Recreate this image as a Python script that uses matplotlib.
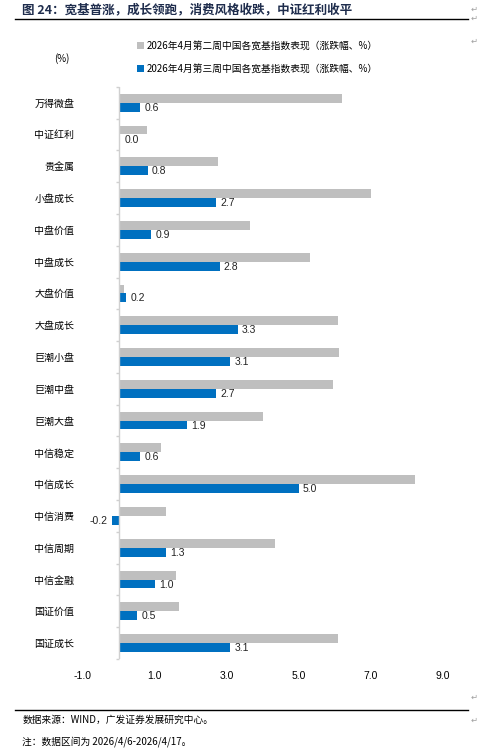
import numpy as np
import matplotlib
matplotlib.use('Agg')
import matplotlib.pyplot as plt

plt.rcParams['font.family'] = ['Noto Sans CJK SC', 'DejaVu Sans']

categories = ['万得微盘', '中证红利', '贵金属', '小盘成长', '中盘价值', '中盘成长',
              '大盘价值', '大盘成长', '巨潮小盘', '巨潮中盘', '巨潮大盘', '中信稳定',
              '中信成长', '中信消费', '中信周期', '中信金融', '国证价值', '国证成长']
week2 = [6.19, 0.77, 2.75, 7.01, 3.64, 5.32, 0.15, 6.08, 6.13,
         5.96, 4.02, 1.17, 8.23, 1.30, 4.35, 1.58, 1.66, 6.08]
week3 = [0.6, 0.04, 0.8, 2.7, 0.9, 2.8, 0.2, 3.3, 3.1,
         2.7, 1.9, 0.6, 5.0, -0.2, 1.3, 1.0, 0.5, 3.1]
xticks = [-1.0, 1.0, 3.0, 5.0, 7.0, 9.0]

label2 = '2026年4月第二周中国各宽基指数表现（涨跌幅、%）'
label3 = '2026年4月第三周中国各宽基指数表现（涨跌幅、%）'
title = '图 24：宽基普涨，成长领跑，消费风格收跌，中证红利收平'
source = '数据来源：WIND，广发证券发展研究中心。'
note = '注：数据区间为 2026/4/6-2026/4/17。'

gray = '#BFBFBF'
blue = '#0070C0'

fig = plt.figure(figsize=(4.93, 7.48), dpi=100)
ax = fig.add_axes([0.168, 0.119, 0.730, 0.765])

y = np.arange(len(categories))
h = 0.28
ax.barh(y - h / 2, week2, height=h, color=gray, label=label2)
ax.barh(y + h / 2, week3, height=h, color=blue, label=label3)

for yi, v in zip(y, week3):
    if v >= 0:
        ax.text(v + 0.12, yi + h / 2 + 0.02, f'{v:.1f}', va='center', ha='left',
                fontsize=7.5, family='Liberation Sans', color='#222222')
    else:
        ax.text(v - 0.12, yi + h / 2 + 0.02, f'{v:.1f}', va='center', ha='right',
                fontsize=7.5, family='Liberation Sans', color='#222222')

ax.set_xlim(-1, 9)
ax.set_ylim(len(categories) - 0.5, -0.5)
ax.set_xticks(xticks)
ax.set_xticklabels([f'{t:.1f}' for t in xticks], family='Liberation Sans', fontsize=7.5)
ax.set_yticks(y)
ax.set_yticklabels(categories, fontsize=7.2)
ax.tick_params(axis='both', length=0)
ax.tick_params(axis='y', pad=6)
ax.tick_params(axis='x', pad=9)
for s in ax.spines.values():
    s.set_visible(False)

# category axis at zero with small ticks between categories
ax.axvline(0, color='#D0D0D0', lw=1)
ax.hlines(np.arange(len(categories) + 1) - 0.5, -0.08, 0, color='#D0D0D0', lw=1, clip_on=False)

leg = fig.legend(loc='upper left', bbox_to_anchor=(0.26, 0.957), frameon=False,
                 fontsize=7, handlelength=0.7, handleheight=0.7, handletextpad=0.3,
                 labelspacing=1.3)

fig.text(0.11, 0.922, '(%)', fontsize=7, va='center')

fig.text(0.045, 0.987, title, fontsize=9, fontweight='bold', va='center', color='#1F2D4D')
fig.add_artist(plt.Line2D([0.03, 0.95], [0.975, 0.975], color='black', lw=1))
fig.add_artist(plt.Line2D([0.03, 0.95], [0.051, 0.051], color='black', lw=1))
fig.text(0.045, 0.037, source, fontsize=7, va='center')
fig.text(0.045, 0.009, note, fontsize=7, va='center')

for yy in [0.987, 0.975, 0.945, 0.068, 0.037]:
    fig.text(0.955, yy, '↵', fontsize=6, color='#A0A0A0', va='center', family='DejaVu Sans')

fig.savefig('out.png', dpi=100)
